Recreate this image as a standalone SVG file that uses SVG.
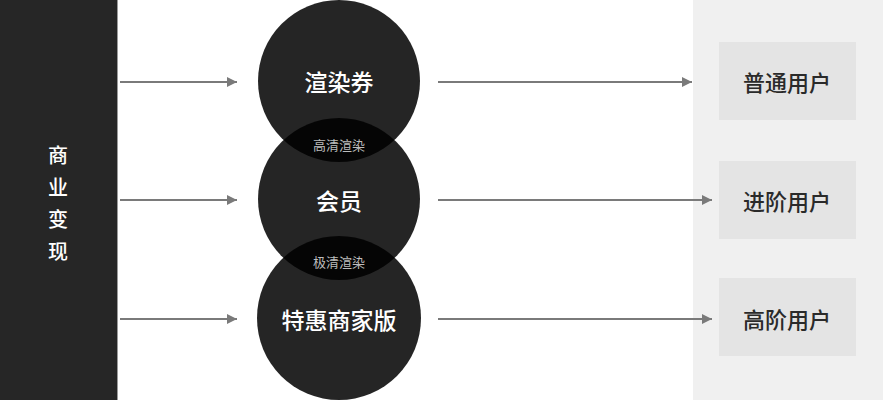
<svg xmlns="http://www.w3.org/2000/svg" width="883" height="400" viewBox="0 0 883 400">
<style>
text{font-family:"Noto Sans CJK SC","Noto Sans",sans-serif;text-anchor:middle;dominant-baseline:central}
.side{fill:#ffffff;font-size:20px;font-weight:500}
.circ{fill:#000;fill-opacity:0.855}
.ct{fill:#ffffff;font-size:23px;font-weight:500}
.st{fill:#bdbdbd;font-size:13px}
.box{fill:#e4e4e4}
.bt{fill:#2a2a2a;font-size:22px;font-weight:500}
.ln{stroke:#7a7a7a;stroke-width:2;fill:none;marker-end:url(#ah)}
</style>
<defs>
<marker id="ah" viewBox="0 0 10 10" refX="10" refY="5" markerWidth="6" markerHeight="5" markerUnits="strokeWidth" orient="auto">
<path d="M0,0 L10,5 L0,10 Z" fill="#7a7a7a"/>
</marker>
</defs>
<rect x="0" y="0" width="883" height="400" fill="#ffffff"/>
<rect x="693" y="0" width="190" height="400" fill="#f0f0f0"/>
<g id="side">
<rect x="0" y="0" width="117" height="400" fill="#262626"/>
<line x1="117.5" y1="0" x2="117.5" y2="400" stroke="#9a9a9a" stroke-width="1"/>
<text class="side" x="58" y="154">商</text>
<text class="side" x="58" y="186">业</text>
<text class="side" x="58" y="218">变</text>
<text class="side" x="58" y="250">现</text>
</g>
<g id="connectors">
<line class="ln" x1="120" y1="82" x2="237" y2="82"/>
<line class="ln" x1="120" y1="200" x2="237" y2="200"/>
<line class="ln" x1="120" y1="319" x2="237" y2="319"/>
<line class="ln" x1="438" y1="82" x2="692" y2="82"/>
<line class="ln" x1="438" y1="200" x2="712" y2="200"/>
<line class="ln" x1="438" y1="319" x2="712" y2="319"/>
</g>
<g id="c1"><circle class="circ" cx="339" cy="81" r="81"/><text class="ct" x="339" y="81">渲染券</text></g>
<g id="c2"><circle class="circ" cx="339" cy="199" r="81"/><text class="ct" x="339" y="200">会员</text></g>
<g id="c3"><circle class="circ" cx="339" cy="318" r="82"/><text class="ct" x="339" y="319">特惠商家版</text></g>
<g id="o1"><text class="st" x="339" y="144">高清渲染</text></g>
<g id="o2"><text class="st" x="339" y="261">极清渲染</text></g>
<g id="u1"><rect class="box" x="719" y="42" width="137" height="78"/><text class="bt" x="787" y="81">普通用户</text></g>
<g id="u2"><rect class="box" x="719" y="161" width="137" height="78"/><text class="bt" x="787" y="200">进阶用户</text></g>
<g id="u3"><rect class="box" x="719" y="278" width="137" height="78"/><text class="bt" x="787" y="318">高阶用户</text></g>
</svg>
